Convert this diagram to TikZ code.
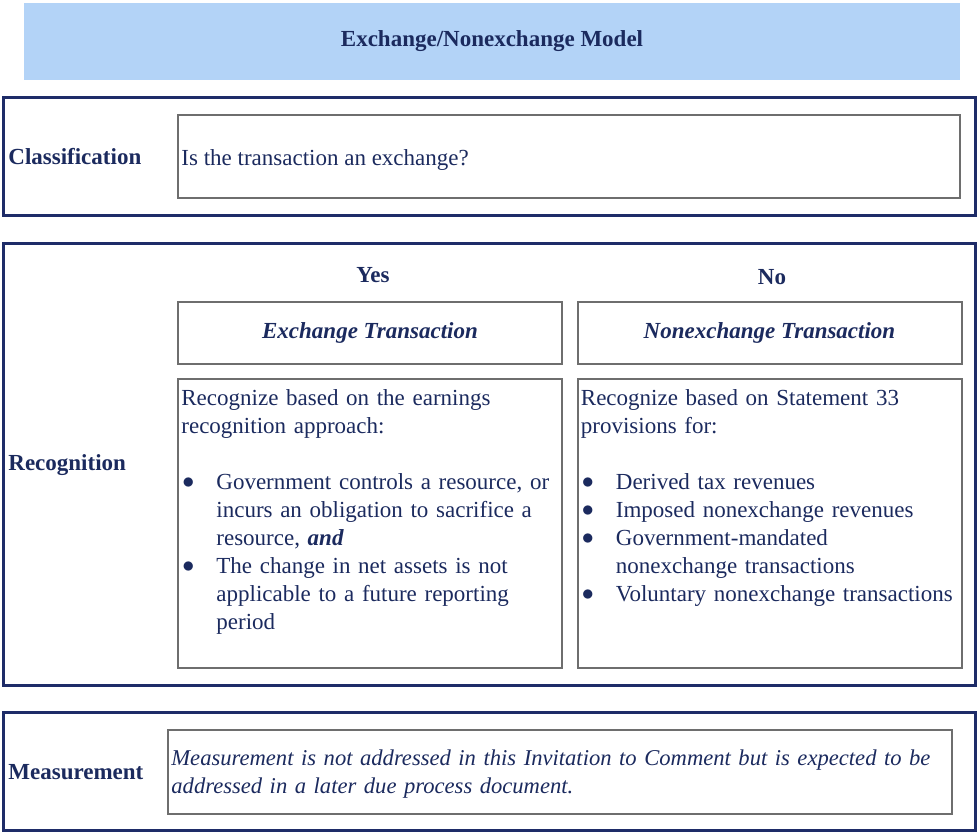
\documentclass[tikz,border=0pt]{standalone}
\usepackage{fontspec}
\setmainfont{Liberation Serif}
\usepackage{enumitem}
\usetikzlibrary{positioning}
\definecolor{navy}{HTML}{1B2A5E}
\definecolor{bordo}{HTML}{1E2C68}
\definecolor{grigio}{HTML}{6E6E6E}
\definecolor{celeste}{HTML}{B3D3F7}
\setlist[itemize]{label=\raisebox{0.1ex}{$\bullet$}, leftmargin=17.5pt, labelindent=0.5pt, labelsep=0pt, labelwidth=17pt, align=left, topsep=14pt, partopsep=0pt, itemsep=0pt, parsep=0pt}
\tikzset{
	fascia/.style={rectangle, draw=bordo, line width=1.5pt, minimum width=486pt, minimum height=59pt},
	casella/.style={rectangle, draw=grigio, line width=1pt, text=navy},
	etichetta/.style={anchor=west, inner sep=0pt, font=\bfseries, text=navy},
	testo/.style={inner sep=0pt, align=left, text=navy}
}

\begin{document}
\fontsize{11.5}{14}\selectfont
\begin{tikzpicture}[x=0.5pt, y=-0.5pt]
		\useasboundingbox (0,0) rectangle (977,832);
		
		%Titolo
		\node(Titolo) at (492,41.5) [rectangle, fill=celeste, minimum width=468pt, minimum height=38.5pt, font=\bfseries, text=navy]{Exchange/Nonexchange Model};
		
		%Classificazione
		\node(Classificazione) at (489,156) [fascia]{};
		\node(Domanda) at (569,156.5) [casella, minimum width=391pt, minimum height=41.5pt]{};
		\node(LabelClass) at (8,157) [etichetta]{Classification};
		\node(TestoDomanda) at ([shift={(4,3)}]Domanda.west) [testo, anchor=west]{Is the transaction an exchange?};
		
		%Riconoscimento
		\node(Riconoscimento) at (489,464) [fascia, minimum height=221pt]{};
		\node(LabelRic) at (8,465) [etichetta]{Recognition};
		\node(Yes) at (373,275) [testo, font=\bfseries]{Yes};
		\node(No) at (772,277) [testo, font=\bfseries]{No};
		\node(Scambio) at (370,333) [casella, minimum width=192pt, minimum height=31pt, font=\bfseries\itshape]{Exchange Transaction};
		\node(NonScambio) at (769.5,333) [casella, minimum width=192pt, minimum height=31pt, font=\bfseries\itshape]{Nonexchange Transaction};
		\node(CorpoScambio) at (370,523.5) [casella, minimum width=192pt, minimum height=144.5pt]{};
		\node(CorpoNonScambio) at (769.5,523.5) [casella, minimum width=192pt, minimum height=144.5pt]{};
		
		%Testi dei riquadri
		\node(TestoScambio) at ([shift={(4,11)}]CorpoScambio.north west) [testo, anchor=north west, text width=190pt]{Recognize based on the earnings\\ recognition approach:
			\begin{itemize}
				\item Government controls a resource, or\\ incurs an obligation to sacrifice a\\ resource, \textbf{\textit{and}}
				\item The change in net assets is not\\ applicable to a future reporting\\ period
		\end{itemize}};
		\node(TestoNonScambio) at ([shift={(4,11)}]CorpoNonScambio.north west) [testo, anchor=north west, text width=190pt]{Recognize based on Statement 33\\ provisions for:
			\begin{itemize}
				\item Derived tax revenues
				\item Imposed nonexchange revenues
				\item Government-mandated\\ nonexchange transactions
				\item Voluntary nonexchange transactions
		\end{itemize}};
		
		%Misurazione
		\node(Misurazione) at (489,771) [fascia]{};
		\node(CasellaMis) at (560,772) [casella, minimum width=392pt, minimum height=42pt]{};
		\node(LabelMis) at (8,772) [etichetta]{Measurement};
		\node(TestoMis) at ([shift={(4,2)}]CasellaMis.west) [testo, anchor=west, text width=389pt, font=\itshape\fontsize{11.3}{14}\selectfont]{Measurement is not addressed in this Invitation to Comment but is expected to be\\ addressed in a later due process document.};
		
\end{tikzpicture}
\end{document}
